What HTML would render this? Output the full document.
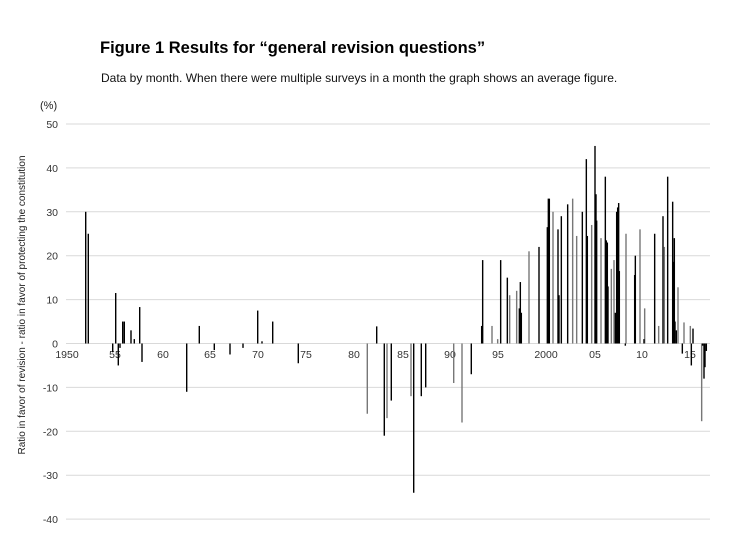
<!DOCTYPE html>
<html><head><meta charset="utf-8"><style>
html,body{margin:0;padding:0;background:#fff;}
svg{display:block;font-family:"Liberation Sans",Arial,sans-serif;}
</style></head><body>
<svg id="c" width="730" height="536" viewBox="0 0 730 536" xmlns="http://www.w3.org/2000/svg">
<text x="100" y="53" font-size="16.5" font-weight="bold" fill="#000">Figure 1 Results for “general revision questions”</text>
<text x="101" y="82" font-size="12" fill="#111">Data by month. When there were multiple surveys in a month the graph shows an average figure.</text>
<text x="40" y="109" font-size="11" fill="#222">(%)</text>
<g id="grid" stroke="#d9d9d9" stroke-width="1"></g>
<g id="ylab" font-size="10.5" fill="#333" text-anchor="end"></g>
<g id="xlab" font-size="10.5" fill="#333" text-anchor="middle"></g>
<text transform="translate(25,305) rotate(-90)" font-size="10" fill="#222" text-anchor="middle">Ratio in favor of revision - ratio in favor of protecting the constitution</text>
<g id="bars"></g>
</svg>
<script>
var ns="http://www.w3.org/2000/svg";
function el(p,t,a,txt){var e=document.createElementNS(ns,t);for(var k in a)e.setAttribute(k,a[k]);if(txt!==undefined)e.textContent=txt;document.getElementById(p).appendChild(e);}
var Z=343.5,S=4.39;
for(var v=50;v>=-40;v-=10){var y=Z-v*S;el('grid','line',{x1:66,x2:710,y1:y,y2:y});el('ylab','text',{x:58,y:y+4},String(v));}
var xl=[["1950",67],["55",115],["60",163],["65",210],["70",258],["75",306],["80",354],["85",403],["90",450],["95",498],["2000",546],["05",595],["10",642],["15",690]];
xl.forEach(function(a){el('xlab','text',{x:a[1],y:358},a[0]);});
var B=[[85.7,30],[88.3,25],[115.7,11.5],[112.7,-2],[118.3,-5],[120,-1],[122.7,5],[124.3,5],[131,3],[134.3,1],[139.7,8.3],[142,-4.2],[186.7,-11],[199.3,4],[214.3,-1.5],[230,-2.5],[243,-1],[257.7,7.5],[262,0.5],[272.7,5],[298.3,-4.5],
[367.3,-16,1],[376.7,3.9],[384.3,-21],[387,-17,1],[391.3,-13],[411,-12,1],[413.7,-34],[421.3,-12],[425.7,-10],[453.7,-9,1],[462,-18,1],[471.3,-7]];
var Z3=[[35,4],[38,19],[66,4,1],[83,1,1],[92,19],[112,15],[119,11,1],[140,12,1],[148,8],[151,14],[154,7],[177,21,1],[207,22],[232,26.5],[235,33],[238,33],[249,30,1],[264,26],[267,11],[274,29],[293,31.7],[308,33,1],[320,24.5,1],[337,30],[349,42],[352,24.5],[365,27,1],[375,45],[378,34],[380,28],[393,24,1],[406,38],[409,23.5],[412,23],[414,13],[424,17,1],[432,19,1],[436,7],[440,30],[443,31],[446,32],[448,16.5],[466,-0.5],[468,25,1],[494,15.6],[496,20],[510,26,1],[524,8,1],[522,1],[554,25],[566,4,1],[579,29],[583,22,1],[593,38],[608,32.3],[611,18.6],[613,24],[615,5],[619,3],[624,12.8,1],[637,-2.3],[642,4.8,1],[661,4,1],[664,-5],[669,3.4],[695,-17.7,1],[698,-0.5],[702,-8],[705,-5.4],[709,-1.7]];
Z3.forEach(function(b){B.push([470+b[0]/3,b[1],b[2]]);});
B.forEach(function(b){var h=Math.abs(b[1])*S;var y=b[1]>0?Z-h:Z;el('bars','rect',{x:b[0]-0.7,y:y,width:1.4,height:Math.max(h,0.8),fill:b[2]?'#777':'#000'});});
</script>
</body></html>
